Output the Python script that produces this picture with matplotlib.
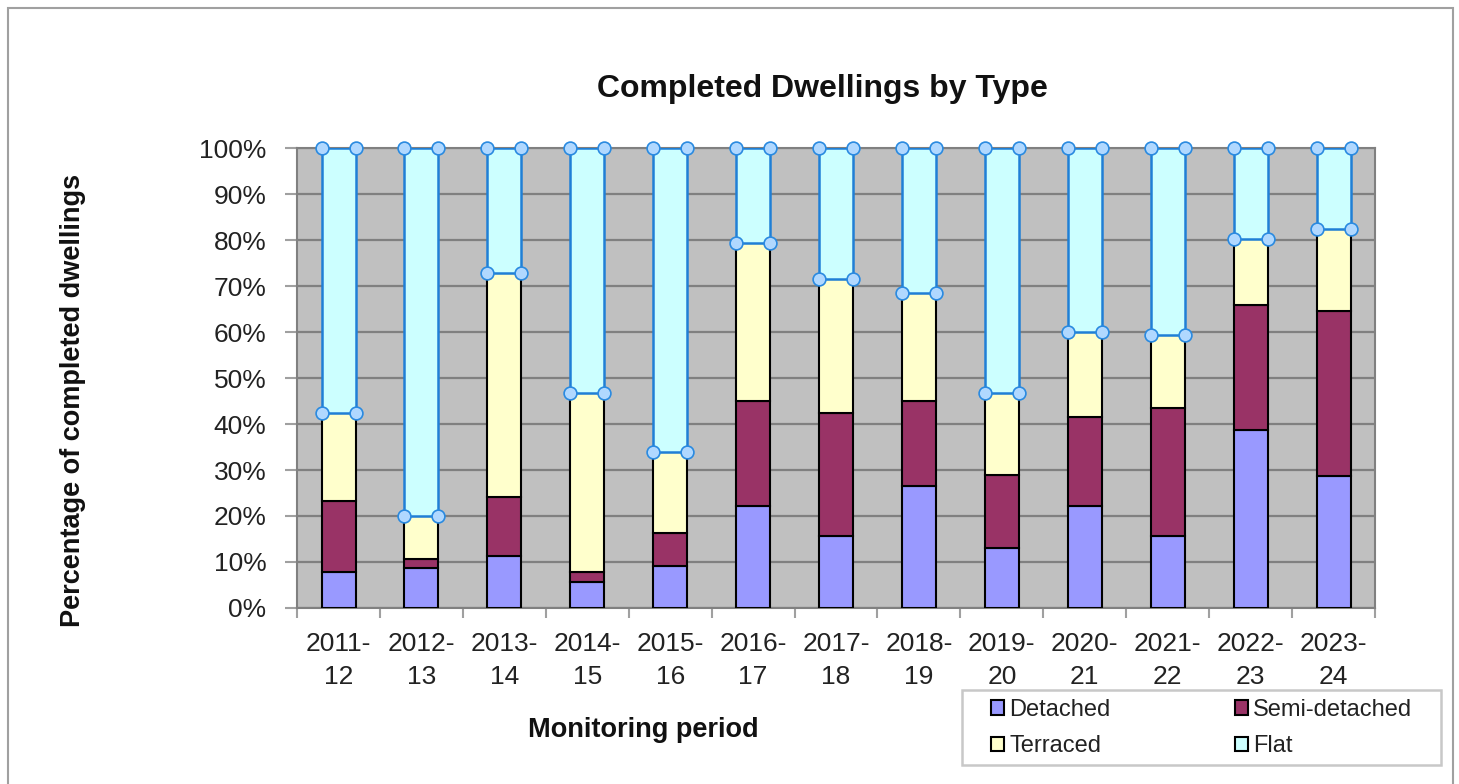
import matplotlib.pyplot as plt
import numpy as np
from matplotlib.patches import Rectangle, Patch

plt.rcParams['font.family'] = ['Liberation Sans', 'DejaVu Sans']

# Completed dwellings by type, share of completions (%)
periods = ['2011-\n12', '2012-\n13', '2013-\n14', '2014-\n15', '2015-\n16', '2016-\n17',
           '2017-\n18', '2018-\n19', '2019-\n20', '2020-\n21', '2021-\n22', '2022-\n23',
           '2023-\n24']
detached = [7.8, 8.6, 11.3, 5.6, 9.2, 22.2, 15.7, 26.6, 13.1, 22.2, 15.7, 38.8, 28.7]
semi_detached = [15.5, 2.0, 12.8, 2.3, 7.0, 22.8, 26.6, 18.4, 15.8, 19.4, 27.7, 27.1, 35.9]
terraced = [19.0, 9.5, 48.7, 38.8, 17.8, 34.3, 29.2, 23.4, 17.8, 18.5, 15.9, 14.3, 17.7]
flat = [57.7, 79.9, 27.2, 53.3, 66.0, 20.7, 28.5, 31.6, 53.3, 39.9, 40.7, 19.8, 17.7]

colours = {'Detached': '#9999ff', 'Semi-detached': '#993366',
           'Terraced': '#ffffcc', 'Flat': '#ccffff'}

fig = plt.figure(figsize=(14.59, 7.84), dpi=100)
fig.patches.append(Rectangle((0.0055, -0.01), 0.9905, 1.0, transform=fig.transFigure,
                             fill=False, edgecolor='#a0a0a0', linewidth=1.5))
ax = fig.add_axes([0.2036, 0.2245, 0.7388, 0.5867])
ax.set_facecolor('#c0c0c0')

x = np.arange(len(periods))
w = 0.41
b1 = np.array(detached)
b2 = b1 + np.array(semi_detached)
b3 = b2 + np.array(terraced)
ax.bar(x, detached, w, color=colours['Detached'], edgecolor='black', linewidth=1.5, zorder=3)
ax.bar(x, semi_detached, w, bottom=b1, color=colours['Semi-detached'], edgecolor='black', linewidth=1.5, zorder=3)
ax.bar(x, terraced, w, bottom=b2, color=colours['Terraced'], edgecolor='black', linewidth=1.5, zorder=3)
ax.bar(x, 100 - b3, w, bottom=b3, color=colours['Flat'], edgecolor='#1f7fd6', linewidth=1.8, zorder=4)

# selection handles on the flat series
for xs in (x - w / 2, x + w / 2):
    ax.scatter(xs, b3, s=85, color='#b0d8ff', edgecolor='#2a8ae0', linewidth=1.2, zorder=5, clip_on=False)
    ax.scatter(xs, np.full(len(x), 100), s=85, color='#b0d8ff', edgecolor='#2a8ae0', linewidth=1.2, zorder=5, clip_on=False)

ax.set_xlim(-0.5, len(periods) - 0.5)
ax.set_ylim(0, 100)
ax.set_yticks(np.arange(0, 101, 10))
ax.set_yticklabels([f'{v}%' for v in range(0, 101, 10)])
ax.yaxis.grid(True, color='#808080', linewidth=1.6, zorder=1)
ax.set_axisbelow(True)
ax.set_xticks(x)
ax.set_xticklabels(periods, linespacing=1.5)
ax.set_xticks(np.arange(-0.5, len(periods), 1), minor=True)
ax.tick_params(axis='x', which='major', length=0, labelsize=19, colors='#222222', pad=17)
ax.tick_params(axis='x', which='minor', length=7, width=1.5, color='#a0a0a0')
ax.tick_params(axis='y', length=9, width=1.5, color='#a0a0a0', labelsize=19, labelcolor='#222222', pad=13)
for s in ax.spines.values():
    s.set_color('#808080')
    s.set_linewidth(1.5)

fig.text(0.564, 0.886, 'Completed Dwellings by Type', fontsize=23, fontweight='bold',
         ha='center', va='center', color='#111111')
fig.text(0.441, 0.069, 'Monitoring period', fontsize=19.5, fontweight='bold',
         ha='center', va='center', color='#111111')
fig.text(0.050, 0.489, 'Percentage of completed dwellings', fontsize=19.5, fontweight='bold',
         ha='center', va='center', rotation=90, color='#111111')

handles = [Patch(facecolor=c, edgecolor='black', linewidth=1.5) for c in colours.values()]
labels = list(colours.keys())
order = [0, 2, 1, 3]
leg = fig.legend([handles[i] for i in order], [labels[i] for i in order], ncol=2,
                 loc='upper left', bbox_to_anchor=(0.6795, 0.1085), fontsize=17,
                 frameon=False, handlelength=0.55, handleheight=0.55, handletextpad=0.2,
                 columnspacing=5.3, borderpad=0, borderaxespad=0, labelspacing=0.6)
for t in leg.get_texts():
    t.set_color('#222222')
fig.patches.append(Rectangle((962 / 1459, 1 - 765 / 784), 479 / 1459, 75 / 784,
                             transform=fig.transFigure, fill=False,
                             edgecolor='#c8c8c8', linewidth=1.8))

fig.savefig('out.png', dpi=100)
